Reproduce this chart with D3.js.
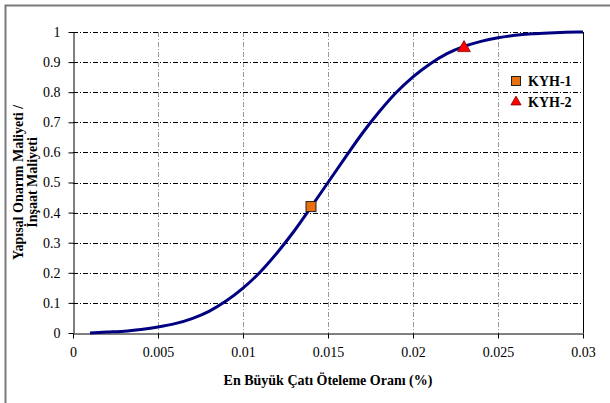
<!DOCTYPE html>
<html>
<head>
<meta charset="utf-8">
<script src="https://cdn.jsdelivr.net/npm/d3@7"></script>
<style>
  html, body { margin: 0; padding: 0; background: #fff; }
  svg { display: block; }
</style>
</head>
<body>
<svg id="chart" width="610" height="403" font-family="'Liberation Serif', 'Times New Roman', Tinos, 'DejaVu Serif', serif"></svg>
<script>
// Fragility curve: drift ratio vs. repair-to-construction cost ratio
const driftRatio = [0.001, 0.002, 0.003, 0.004, 0.005, 0.006, 0.007, 0.008, 0.009, 0.010,
                    0.011, 0.012, 0.013, 0.014, 0.015, 0.016, 0.017, 0.018, 0.019, 0.020,
                    0.021, 0.022, 0.023, 0.024, 0.025, 0.026, 0.027, 0.028, 0.029, 0.030];
const costRatio  = [0.000, 0.003, 0.006, 0.012, 0.020, 0.031, 0.048, 0.072, 0.106, 0.149,
                    0.202, 0.266, 0.338, 0.418, 0.500, 0.582, 0.662, 0.734, 0.798, 0.851,
                    0.894, 0.928, 0.952, 0.969, 0.981, 0.989, 0.994, 0.997, 0.999, 1.000];

// Building points
const buildingNames = ["KYH-1", "KYH-2"];
const buildingDrift = [0.014, 0.023];
const buildingCost  = [0.42, 0.947];

const xTicks = [0, 0.005, 0.01, 0.015, 0.02, 0.025, 0.03];
const yTicks = [0, 0.1, 0.2, 0.3, 0.4, 0.5, 0.6, 0.7, 0.8, 0.9, 1];

const FONT = "'Liberation Serif', 'Times New Roman', Tinos, 'DejaVu Serif', serif";
const svg = d3.select("#chart");
const plot = { left: 73, right: 583, top: 32, bottom: 333 };

const x = d3.scaleLinear().domain([0, 0.03]).range([plot.left, plot.right]);
const y = d3.scaleLinear().domain([0, 1]).range([plot.bottom, plot.top]);

// outer frame
svg.append("path")
  .attr("d", "M5.5,403 L5.5,5.5 L610,5.5")
  .attr("fill", "none")
  .attr("stroke", "#7a7a7a")
  .attr("stroke-width", 2);

// vertical grid
svg.append("g")
  .selectAll("line")
  .data(xTicks.slice(1, -1))
  .join("line")
  .attr("x1", d => Math.round(x(d)) + 0.5)
  .attr("x2", d => Math.round(x(d)) + 0.5)
  .attr("y1", plot.top)
  .attr("y2", plot.bottom)
  .attr("stroke", "#9a9a9a")
  .attr("stroke-width", 1)
  .attr("stroke-dasharray", "5,2,1,2");

// horizontal grid
svg.append("g")
  .selectAll("line")
  .data(yTicks.slice(1))
  .join("line")
  .attr("x1", plot.left)
  .attr("x2", plot.right)
  .attr("y1", d => Math.round(y(d)) + 0.5)
  .attr("y2", d => Math.round(y(d)) + 0.5)
  .attr("stroke", "#000")
  .attr("stroke-width", 1)
  .attr("stroke-dasharray", "5,2,1,2");

// right border
svg.append("line")
  .attr("x1", plot.right + 0.5).attr("x2", plot.right + 0.5)
  .attr("y1", plot.top).attr("y2", plot.bottom)
  .attr("stroke", "#000");

// axes
const xAxis = svg.append("g")
  .attr("transform", `translate(0,${plot.bottom + 0.5})`)
  .call(d3.axisBottom(x).tickValues(xTicks).tickFormat(d => String(+d.toFixed(3)))
        .tickSizeInner(5).tickSizeOuter(0).tickPadding(9));
xAxis.attr("font-family", FONT).attr("font-size", 14);
xAxis.select(".domain").attr("stroke", "#000");

const yAxis = svg.append("g")
  .attr("transform", `translate(${plot.left + 0.5},0)`)
  .call(d3.axisLeft(y).tickValues(yTicks).tickFormat(d => String(+d.toFixed(1)))
        .tickSizeInner(5).tickSizeOuter(0).tickPadding(8));
yAxis.attr("font-family", FONT).attr("font-size", 14);
yAxis.select(".domain").attr("stroke", "#000");

// curve
const line = d3.line()
  .x((d, i) => x(driftRatio[i]))
  .y(d => y(d))
  .curve(d3.curveMonotoneX);

svg.append("path")
  .datum(costRatio)
  .attr("d", line)
  .attr("fill", "none")
  .attr("stroke", "#000080")
  .attr("stroke-width", 3);

// markers
const sq = 10;
svg.append("rect")
  .attr("x", x(buildingDrift[0]) - sq / 2)
  .attr("y", y(buildingCost[0]) - sq / 2)
  .attr("width", sq).attr("height", sq)
  .attr("fill", "#E8700E")
  .attr("stroke", "#222")
  .attr("stroke-width", 1);

const tri = d3.symbol().type(d3.symbolTriangle).size(70);
svg.append("path")
  .attr("d", tri())
  .attr("transform", `translate(${x(buildingDrift[1])},${y(buildingCost[1])})`)
  .attr("fill", "#FF0000")
  .attr("stroke", "#800000")
  .attr("stroke-width", 0.8);

// legend
const legend = svg.append("g").attr("transform", "translate(516,81)");
legend.append("rect")
  .attr("x", -4.5).attr("y", -4.5).attr("width", 9).attr("height", 9)
  .attr("fill", "#E8700E").attr("stroke", "#222");
legend.append("path")
  .attr("d", d3.symbol().type(d3.symbolTriangle).size(45)())
  .attr("transform", "translate(0,21)")
  .attr("fill", "#FF0000").attr("stroke", "#800000").attr("stroke-width", 0.8);
legend.selectAll("text.lab")
  .data(buildingNames)
  .join("text")
  .attr("class", "lab")
  .attr("x", 12)
  .attr("y", (d, i) => i * 21 + 5)
  .attr("font-family", FONT)
  .attr("font-size", 14)
  .attr("font-weight", "bold")
  .text(d => d);

// axis titles
svg.append("text")
  .attr("x", (plot.left + plot.right) / 2)
  .attr("y", 385)
  .attr("text-anchor", "middle")
  .attr("font-family", FONT)
  .attr("font-size", 14)
  .attr("font-weight", "bold")
  .text("En Büyük Çatı Öteleme Oranı (%)");

const yTitle = svg.append("text")
  .attr("transform", `translate(23,${(plot.top + plot.bottom) / 2}) rotate(-90)`)
  .attr("text-anchor", "middle")
  .attr("font-family", FONT)
  .attr("font-size", 14)
  .attr("font-weight", "bold");
yTitle.append("tspan").attr("x", 0).attr("dy", 0).text("Yapısal Onarım Maliyeti /");
yTitle.append("tspan").attr("x", 0).attr("dy", 14).text("İnşaat Maliyeti");
</script>
</body>
</html>
